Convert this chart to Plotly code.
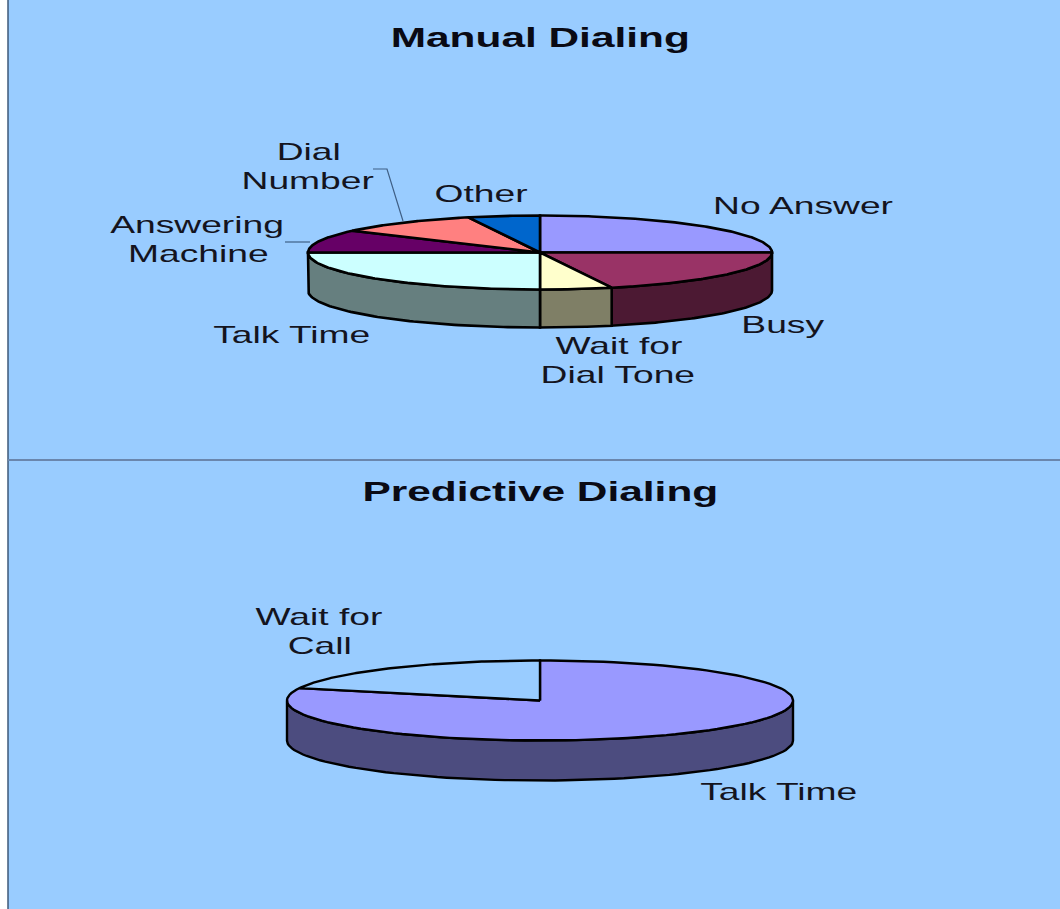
import numpy as np
import plotly.graph_objects as go

manual_labels = ["No Answer", "Busy", "Wait for Dial Tone", "Talk Time", "Answering Machine", "Dial Number", "Other"]
manual_values = [25, 20, 5, 25, 10, 10, 5]
predictive_labels = ["Talk Time", "Wait for Call"]
predictive_values = [80, 20]

manual_colors = ["#9999FF", "#993366", "#FFFFCC", "#CCFFFF", "#660066", "#FF8080", "#0066CC"]
predictive_colors = ["#9999FF", "#99CCFF"]
BG = "#99CCFF"


def darker(hex_color):
    r, g, b = int(hex_color[1:3], 16), int(hex_color[3:5], 16), int(hex_color[5:7], 16)
    return f"rgb({r // 2},{g // 2},{b // 2})"


def pie_traces(labels, values, colors, cx, cy, rx, ry, depth, lw):
    total = sum(values)
    edges = np.concatenate([[0], np.cumsum(values)]) / total * 360.0

    def pt(a, dy=0.0):
        rad = np.radians(a)
        return cx + rx * np.sin(rad), cy - ry * np.cos(rad) + dy

    sides, tops = [], []
    for i, name in enumerate(labels):
        a0, a1 = edges[i], edges[i + 1]
        s0, s1 = max(a0, 90.0), min(a1, 270.0)
        if s1 > s0:
            arc = np.linspace(s0, s1, 80)
            xt, yt = pt(arc)
            xb, yb = pt(arc[::-1], depth)
            sides.append(go.Scatter(
                x=np.concatenate([xt, xb, xt[:1]]), y=np.concatenate([yt, yb, yt[:1]]),
                mode="lines", fill="toself", fillcolor=darker(colors[i]),
                line=dict(color="#000000", width=lw), hoverinfo="skip", showlegend=False))
        arc = np.linspace(a0, a1, 120)
        x, y = pt(arc)
        tops.append(go.Scatter(
            x=np.concatenate([[cx], x, [cx]]), y=np.concatenate([[cy], y, [cy]]),
            mode="lines", fill="toself", fillcolor=colors[i], name=name,
            line=dict(color="#000000", width=lw), hoverinfo="name", showlegend=False))
    return sides + tops


fig = go.Figure()
for tr in pie_traces(manual_labels, manual_values, manual_colors, 540, 252.5, 232, 37, 38, 2.6):
    fig.add_trace(tr)
for tr in pie_traces(predictive_labels, predictive_values, predictive_colors, 540, 700.5, 253, 40, 40, 2.4):
    fig.add_trace(tr)

# Leader lines
LEADER = "#3F5F85"
fig.add_trace(go.Scatter(x=[373, 387, 403], y=[169, 169, 221], mode="lines",
                         line=dict(color=LEADER, width=1.2), hoverinfo="skip", showlegend=False))
fig.add_trace(go.Scatter(x=[285, 310], y=[242, 242], mode="lines",
                         line=dict(color=LEADER, width=1.2), hoverinfo="skip", showlegend=False))

titles = [("Manual Dialing", 540, 38), ("Predictive Dialing", 540, 492)]
text_lines = [
    ("Dial", 308, 151), ("Number", 307, 180), ("Other", 481, 193), ("No Answer", 803, 205),
    ("Answering", 197, 224), ("Machine", 198, 253), ("Talk Time", 291, 334), ("Busy", 782, 324),
    ("Wait for", 619, 345), ("Dial Tone", 618, 374),
    ("Wait for", 319, 616), ("Call", 319, 645), ("Talk Time", 778, 791),
]
anns = []
for t, x, y in titles:
    anns.append(dict(x=x, y=y, text=f"<b>{t}</b>", xref="x", yref="y", showarrow=False,
                     xanchor="center", yanchor="middle",
                     font=dict(family="Liberation Sans", size=27, color="#0A0A14")))
for t, x, y in text_lines:
    anns.append(dict(x=x, y=y, text=t, xref="x", yref="y", showarrow=False,
                     xanchor="center", yanchor="middle",
                     font=dict(family="Liberation Sans", size=24, color="#14141E")))

shapes = [
    dict(type="rect", xref="x", yref="y", x0=8, x1=1060, y0=0, y1=909, layer="below",
         fillcolor=BG, line=dict(width=0)),
    dict(type="line", xref="x", yref="y", x0=8, x1=8, y0=0, y1=909, layer="below",
         line=dict(color="#3E5878", width=1.5)),
    dict(type="line", xref="x", yref="y", x0=8, x1=1060, y0=460, y1=460, layer="below",
         line=dict(color="#6A86AD", width=2)),
]

fig.update_layout(
    width=1060, height=909, margin=dict(l=0, r=0, t=0, b=0, pad=0),
    paper_bgcolor="#FFFFFF", plot_bgcolor="#FFFFFF", showlegend=False,
    xaxis=dict(range=[0, 1060], visible=False, fixedrange=True),
    yaxis=dict(range=[909, 0], visible=False, fixedrange=True),
    annotations=anns, shapes=shapes,
)

post = """
document.body.style.margin = '0';
document.body.style.overflow = 'hidden';
document.querySelectorAll('.annotation-text').forEach(function (t) {
  var bold = t.innerHTML.indexOf('bold') >= 0;
  var k = bold ? 1.57 : 1.55;
  var w = t.getComputedTextLength();
  t.setAttribute('textLength', w * k);
  t.setAttribute('lengthAdjust', 'spacingAndGlyphs');
});
"""
fig.write_html("out.html", post_script=post, config={"displayModeBar": False})
